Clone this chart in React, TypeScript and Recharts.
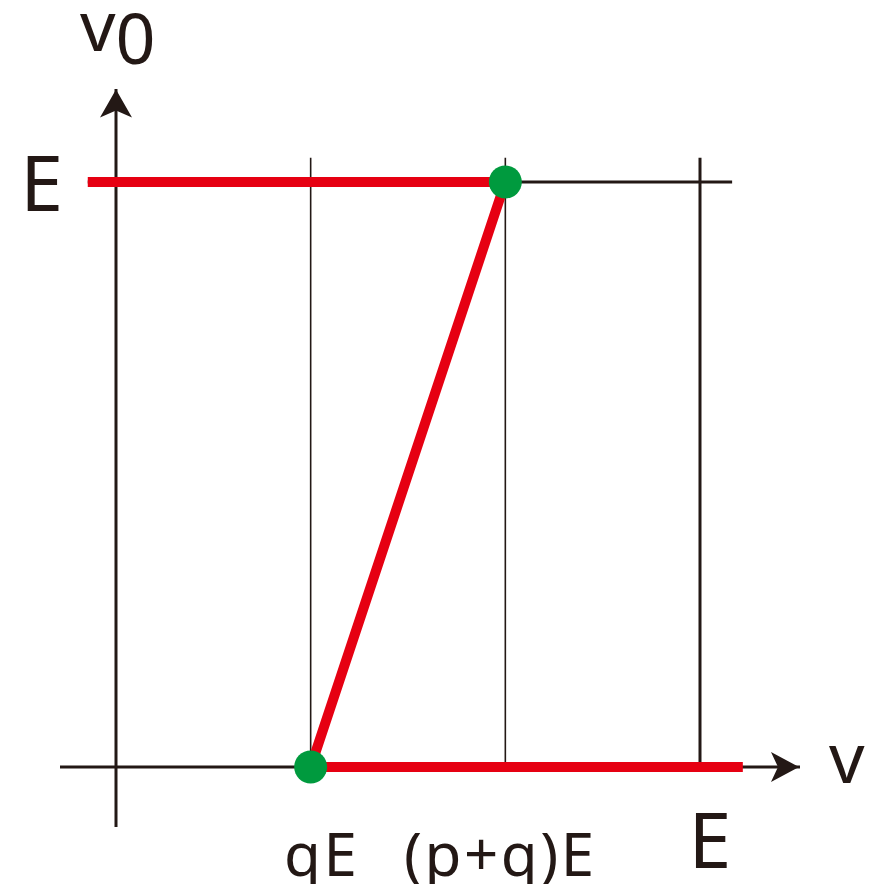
import React from 'react';
import {
	ComposedChart,
	Line,
	Scatter,
	XAxis,
	YAxis,
	ReferenceLine,
	ReferenceDot
} from 'recharts';

// v measured in units where E = 6, so qE = 2 and (p+q)E = 4
const vTicks = [2, 4, 6];
const vTickLabels = ['qE', '(p+q)E', 'E'];
const v0Ticks = [6];
const v0TickLabels = ['E'];

// output curve: stays at E up to (p+q)E, falls back to qE, then stays at 0
const curveV = [-0.29, 4, 2, 6.44];
const curveV0 = [6, 6, 0, 0];

// switching points
const switchV = [4, 2];
const switchV0 = [6, 0];

const red = '#e60012';
const green = '#009a3e';
const ink = '#231815';
const font = '"Noto Sans", sans-serif';

const curve = curveV.map((v, i) => ({ v, v0: curveV0[i] }));
const points = switchV.map((v, i) => ({ v, v0: switchV0[i] }));

const xDomain: [number, number] = [-0.5753, 7.0274];
const yDomain: [number, number] = [-0.6154, 6.954];

// per-label tweaks, offsets measured from the point on the v axis
const xTickStyle: Record<string, { dx: number; dy: number; size: number; spacing: number }> = {
	'qE': { dx: 11, dy: 109, size: 60, spacing: 2.5 },
	'(p+q)E': { dx: -5, dy: 109, size: 60, spacing: 2.5 },
	'E': { dx: 10, dy: 101, size: 77, spacing: 0 }
};

const xTick = (text: string) => (props: any) => {
	const { cx, cy } = props;
	const s = xTickStyle[text];
	return (
		<text
			x={cx + s.dx}
			y={cy + s.dy}
			textAnchor="middle"
			fontFamily={font}
			fontSize={s.size}
			letterSpacing={s.spacing}
			fill={ink}
		>
			{text}
		</text>
	);
};

const yTick = (text: string) => (props: any) => {
	const { cx, cy } = props;
	return (
		<text x={cx - 53} y={cy + 29} textAnchor="end" fontFamily={font} fontSize={77} fill={ink}>
			{text}
		</text>
	);
};

const RightArrow = (props: any) => {
	const { cx, cy } = props;
	return (
		<g>
			<path d={`M${cx},${cy} L${cx - 28},${cy - 15} L${cx - 21},${cy} L${cx - 28},${cy + 15} Z`} fill={ink} />
			<text x={cx + 30} y={cy + 16} fontFamily={font} fontSize={70} fill={ink}>v</text>
		</g>
	);
};

const UpArrow = (props: any) => {
	const { cx, cy } = props;
	return (
		<g>
			<path d={`M${cx},${cy} L${cx - 16},${cy + 28} L${cx},${cy + 21} L${cx + 16},${cy + 28} Z`} fill={ink} />
			<text x={cx - 36} y={cy - 38} fontFamily={font} fontSize={70} fill={ink}>
				v<tspan dy={13}>0</tspan>
			</text>
		</g>
	);
};

export default function App() {
	return (
		<div style={{ width: 875, height: 892, margin: -8, background: '#fff' }}>
			<ComposedChart width={875} height={892} margin={{ top: 89, right: 75, bottom: 65, left: 60 }}>
				<XAxis type="number" dataKey="v" domain={xDomain} allowDataOverflow hide />
				<YAxis type="number" dataKey="v0" domain={yDomain} allowDataOverflow hide />

				{/* guide lines */}
				<ReferenceLine segment={[{ x: 2, y: 0 }, { x: 2, y: 6.25 }]} stroke={ink} strokeWidth={1.6} />
				<ReferenceLine segment={[{ x: 4, y: 0 }, { x: 4, y: 6.25 }]} stroke={ink} strokeWidth={1.6} />
				<ReferenceLine segment={[{ x: 6, y: 0 }, { x: 6, y: 6.25 }]} stroke={ink} strokeWidth={3} />
				<ReferenceLine segment={[{ x: -0.29, y: 6 }, { x: 6.33, y: 6 }]} stroke={ink} strokeWidth={3} />

				{/* axes */}
				<ReferenceLine y={0} stroke={ink} strokeWidth={3} />
				<ReferenceLine x={0} stroke={ink} strokeWidth={3} />
				<ReferenceDot x={7.017} y={0} shape={<RightArrow />} />
				<ReferenceDot x={0} y={6.95} shape={<UpArrow />} />

				{/* tick labels */}
				{vTicks.map((v, i) => (
					<ReferenceDot key={`xt-${i}`} x={v} y={0} shape={xTick(vTickLabels[i])} />
				))}
				{v0Ticks.map((v0, i) => (
					<ReferenceDot key={`yt-${i}`} x={0} y={v0} shape={yTick(v0TickLabels[i])} />
				))}

				<Line
					data={curve}
					dataKey="v0"
					type="linear"
					stroke={red}
					strokeWidth={10}
					dot={false}
					activeDot={false}
					strokeLinejoin="miter"
					isAnimationActive={false}
				/>
				<Scatter data={points} dataKey="v0" fill={green} shape={(p: any) => <circle cx={p.cx} cy={p.cy} r={16.5} fill={green} />} isAnimationActive={false} />
			</ComposedChart>
		</div>
	);
}
